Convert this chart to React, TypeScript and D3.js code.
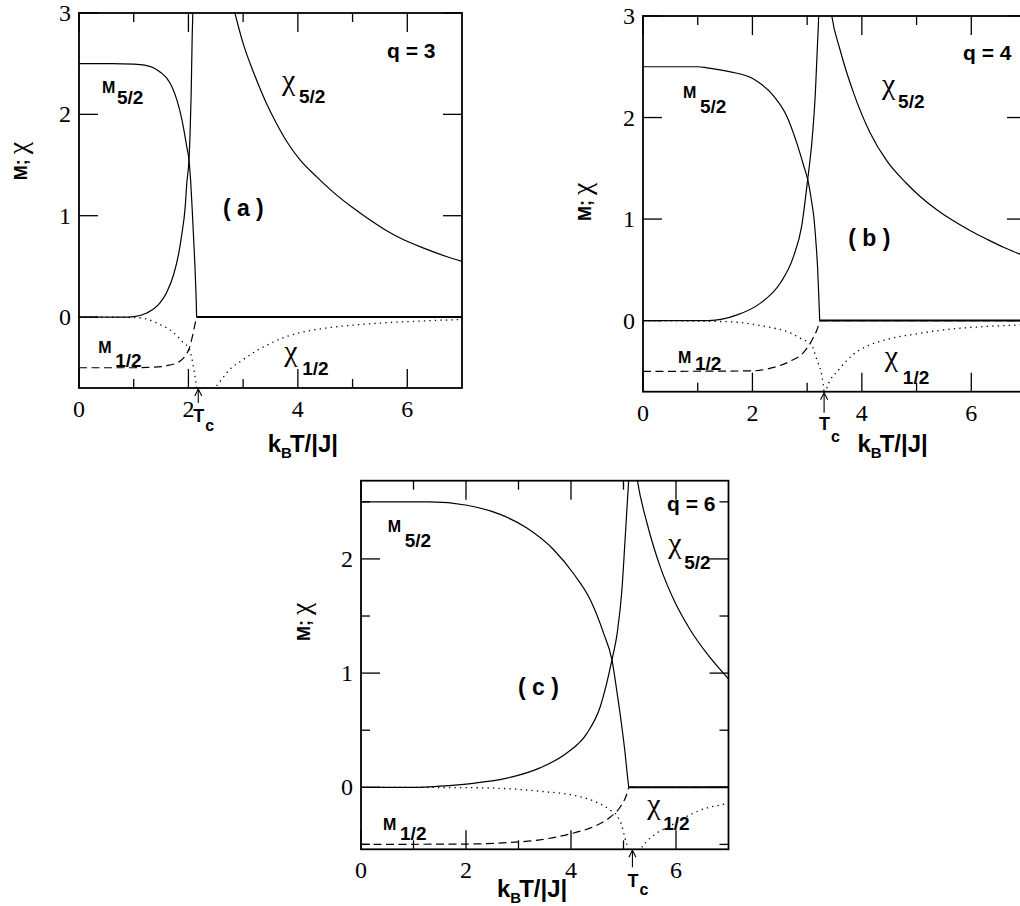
import React from 'react';
import * as d3 from 'd3';

type Pt = [number, number];

// ---- panel (a), q = 3 ----
const m52A: Pt[][] = [
  [[0, 2.5], [0.6, 2.5], [1.0, 2.495], [1.2, 2.485], [1.36, 2.46], [1.5, 2.41], [1.6, 2.36], [1.7, 2.27], [1.79, 2.14], [1.88, 1.95], [1.97, 1.68], [2.01, 1.55], [2.04, 1.35], [2.07, 1.05], [2.1, 0.72], [2.12, 0.49], [2.14, 0.2], [2.15, 0]],
  [[2.15, 0], [7, 0]],
];
const chi52A: Pt[][] = [
  [[0, 0], [0.8, 0], [1.0, 0.005], [1.24, 0.04], [1.48, 0.14], [1.6, 0.24], [1.73, 0.42], [1.82, 0.62], [1.88, 0.82], [1.94, 1.08], [1.97, 1.32], [2.01, 1.55], [2.03, 1.81], [2.05, 2.2], [2.07, 2.8], [2.08, 3.0], [2.09, 3.3]],
  [[2.72, 3.3], [2.85, 3.0], [3.0, 2.7], [3.2, 2.4], [3.4, 2.14], [3.6, 1.92], [3.8, 1.73], [4.04, 1.55], [4.35, 1.38], [4.65, 1.23], [5.0, 1.08], [5.26, 0.98], [5.6, 0.86], [5.87, 0.78], [6.3, 0.68], [6.7, 0.6], [7.0, 0.55]],
];
const m12A: Pt[][] = [
  [[0, -0.5], [1.0, -0.5], [1.3, -0.495], [1.5, -0.49], [1.65, -0.475], [1.8, -0.45], [1.9, -0.41], [1.97, -0.36], [2.02, -0.3], [2.06, -0.22], [2.09, -0.15], [2.12, -0.07], [2.14, -0.02], [2.15, 0]],
  [[2.15, 0], [7, 0]],
];
const chi12A: Pt[][] = [
  [[0, 0], [1.0, -0.005], [1.2, -0.015], [1.5, -0.08], [1.7, -0.14], [1.8, -0.19], [1.9, -0.25], [2.01, -0.31], [2.06, -0.4], [2.1, -0.52], [2.13, -0.62], [2.15, -0.7], [2.16, -0.75]],
  [[2.45, -0.72], [2.5, -0.69], [2.6, -0.62], [2.75, -0.52], [3.0, -0.42], [3.25, -0.33], [3.5, -0.26], [3.75, -0.2], [4.0, -0.16], [4.5, -0.11], [5.0, -0.08], [5.5, -0.06], [6.0, -0.045], [6.5, -0.033], [7.0, -0.025]],
];

// ---- panel (b), q = 4 ----
const m52B: Pt[][] = [
  [[0, 2.5], [1.0, 2.5], [1.17, 2.49], [1.6, 2.45], [2.02, 2.38], [2.39, 2.21], [2.63, 2.01], [2.81, 1.75], [2.94, 1.52], [3.01, 1.39], [3.08, 1.18], [3.12, 1.03], [3.16, 0.78], [3.19, 0.53], [3.21, 0.28], [3.23, 0]],
  [[3.23, 0], [7, 0]],
];
const chi52B: Pt[][] = [
  [[0, 0], [1.2, 0], [1.72, 0.056], [2.14, 0.17], [2.51, 0.37], [2.75, 0.63], [2.9, 0.93], [3.01, 1.39], [3.09, 1.78], [3.15, 2.24], [3.19, 2.73], [3.21, 3.0], [3.22, 3.3]],
  [[3.38, 3.3], [3.45, 3.0], [3.6, 2.67], [3.85, 2.24], [4.15, 1.85], [4.46, 1.57], [4.8, 1.36], [5.07, 1.22], [5.4, 1.08], [5.68, 0.98], [6.0, 0.88], [6.29, 0.8], [6.6, 0.72], [6.89, 0.655], [7.0, 0.635]],
];
const m12B: Pt[][] = [
  [[0, -0.5], [2.0, -0.495], [2.39, -0.46], [2.69, -0.4], [2.94, -0.31], [3.06, -0.22], [3.12, -0.16], [3.18, -0.09], [3.21, -0.04], [3.23, 0]],
  [[3.23, 0], [7, 0]],
];
const chi12B: Pt[][] = [
  [[0, 0], [1.53, -0.01], [2.26, -0.06], [2.69, -0.12], [2.93, -0.19], [3.06, -0.22], [3.18, -0.39], [3.27, -0.55], [3.31, -0.7], [3.32, -0.75]],
  [[3.33, -0.72], [3.35, -0.68], [3.6, -0.47], [3.85, -0.33], [4.1, -0.25], [4.5, -0.18], [5.0, -0.13], [5.6, -0.085], [6.2, -0.06], [7.0, -0.04]],
];

// ---- panel (c), q = 6 ----
const m52C: Pt[][] = [
  [[0, 2.5], [1.3, 2.5], [2.02, 2.47], [2.65, 2.39], [3.16, 2.27], [3.67, 2.08], [4.05, 1.87], [4.37, 1.64], [4.62, 1.35], [4.78, 1.115], [4.88, 0.82], [4.96, 0.56], [5.03, 0.3], [5.07, 0.12], [5.1, 0]],
  [[5.1, 0], [7, 0]],
];
const chi52C: Pt[][] = [
  [[0, 0], [1.0, 0], [1.5, 0.01], [2.14, 0.035], [2.78, 0.08], [3.41, 0.17], [3.92, 0.3], [4.3, 0.47], [4.56, 0.71], [4.78, 1.115], [4.88, 1.35], [4.97, 1.73], [5.03, 2.17], [5.08, 2.55], [5.1, 2.72], [5.11, 2.9]],
  [[5.2, 2.9], [5.26, 2.7], [5.45, 2.31], [5.7, 1.93], [5.96, 1.64], [6.27, 1.38], [6.59, 1.17], [7.0, 0.95]],
];
const m12C: Pt[][] = [
  [[0, -0.5], [2.0, -0.497], [2.78, -0.485], [3.41, -0.46], [4.05, -0.4], [4.43, -0.345], [4.75, -0.26], [4.94, -0.17], [5.07, -0.05], [5.1, 0]],
  [[5.1, 0], [7, 0]],
];
const chi12C: Pt[][] = [
  [[0, 0], [2.0, -0.003], [2.78, -0.012], [3.41, -0.035], [4.05, -0.07], [4.43, -0.12], [4.75, -0.2], [4.88, -0.25], [4.97, -0.34], [5.03, -0.45], [5.08, -0.55], [5.09, -0.6]],
  [[5.3, -0.57], [5.32, -0.55], [5.45, -0.47], [5.64, -0.4], [5.96, -0.32], [6.27, -0.24], [6.59, -0.18], [6.85, -0.155], [7.0, -0.14]],
];

const qLabels = ['q = 3', 'q = 4', 'q = 6'];
const panelTags = ['( a )', '( b )', '( c )'];
const xTicksMajor = [0, 2, 4, 6];
const xTicksMinor = [1, 3, 5];
const tcValues = [2.18, 3.31, 5.17];

const SANS = "'Liberation Sans', sans-serif";
const SERIF = "'Liberation Serif', serif";

type Lab = { kind: 'M' | 'chi'; sub: string; x: number; y: number; sdx: number; sdy: number };

type Panel = {
  id: string;
  left: number; right: number; top: number; bottom: number;
  yDomain: [number, number];
  yMajor: number[]; yMinor: number[];
  m52: Pt[][]; chi52: Pt[][]; m12: Pt[][]; chi12: Pt[][];
  labels: Lab[];
  tag: [number, number]; q: [number, number];
  tcDrop: number; tcArrow: number; tcSubDy: number;
  xLab: [number, number];
  yLab: [number, number];
};

const panels: Panel[] = [
  {
    id: 'a', left: 79, right: 462, top: 13, bottom: 388, yDomain: [-0.7, 3],
    yMajor: [0, 1, 2, 3], yMinor: [],
    m52: m52A, chi52: chi52A, m12: m12A, chi12: chi12A,
    labels: [
      { kind: 'M', sub: '5/2', x: 0.42, y: 2.21, sdx: 15, sdy: 11 },
      { kind: 'chi', sub: '5/2', x: 3.71, y: 2.22, sdx: 17, sdy: 11 },
      { kind: 'M', sub: '1/2', x: 0.35, y: -0.355, sdx: 17, sdy: 14 },
      { kind: 'chi', sub: '1/2', x: 3.75, y: -0.454, sdx: 18, sdy: 12 },
    ],
    tag: [2.63, 1.0], q: [5.63, 2.56],
    tcDrop: 34, tcArrow: 15, tcSubDy: 9,
    xLab: [3.45, 64], yLab: [-52, 1.54],
  },
  {
    id: 'b', left: 643, right: 1026, top: 16, bottom: 391.7, yDomain: [-0.7, 3],
    yMajor: [0, 1, 2, 3], yMinor: [],
    m52: m52B, chi52: chi52B, m12: m12B, chi12: chi12B,
    labels: [
      { kind: 'M', sub: '5/2', x: 0.73, y: 2.19, sdx: 17, sdy: 15 },
      { kind: 'chi', sub: '5/2', x: 4.37, y: 2.21, sdx: 16, sdy: 12 },
      { kind: 'M', sub: '1/2', x: 0.64, y: -0.42, sdx: 17, sdy: 7 },
      { kind: 'chi', sub: '1/2', x: 4.42, y: -0.47, sdx: 18, sdy: 16 },
    ],
    tag: [3.75, 0.73], q: [5.85, 2.57],
    tcDrop: 38, tcArrow: 21, tcSubDy: 12,
    xLab: [3.92, 60], yLab: [-52, 1.17],
  },
  {
    id: 'c', left: 361, right: 728.5, top: 480.7, bottom: 849.3, yDomain: [-0.543, 2.685],
    yMajor: [0, 1, 2], yMinor: [-0.5, 0.5, 1.5, 2.5],
    m52: m52C, chi52: chi52C, m12: m12C, chi12: chi12C,
    labels: [
      { kind: 'M', sub: '5/2', x: 0.51, y: 2.24, sdx: 17, sdy: 15 },
      { kind: 'chi', sub: '5/2', x: 5.85, y: 2.03, sdx: 16, sdy: 14 },
      { kind: 'M', sub: '1/2', x: 0.42, y: -0.37, sdx: 17, sdy: 10 },
      { kind: 'chi', sub: '1/2', x: 5.45, y: -0.25, sdx: 16, sdy: 14 },
    ],
    tag: [2.99, 0.81], q: [5.83, 2.42],
    tcDrop: 38, tcArrow: 18, tcSubDy: 8,
    xLab: [2.59, 48], yLab: [-51, 1.45],
  },
];

const MAJOR = 19;
const MINOR = 9;

function PanelView({ p, idx }: { p: Panel; idx: number }) {
  const x = d3.scaleLinear().domain([0, 7]).range([p.left, p.right]);
  const y = d3.scaleLinear().domain(p.yDomain).range([p.bottom, p.top]);
  const line = d3.line<Pt>().x(d => x(d[0])).y(d => y(d[1])).curve(d3.curveMonotoneX);
  const clipId = `clip-${p.id}`;
  const tc = x(tcValues[idx]);

  // flat zero segments are drawn a touch heavier, as in the print
  const draw = (segs: Pt[][], dash?: string, flatWidth = 1.2, w = 1.2) =>
    segs.map((s, i) => (
      <path key={i} d={line(s) || ''} fill="none" stroke="#000"
        strokeWidth={i === 1 && s.length === 2 ? flatWidth : w} strokeDasharray={dash} />
    ));

  const ticks: JSX.Element[] = [];
  [...xTicksMajor.map(v => [v, MAJOR]), ...xTicksMinor.map(v => [v, MINOR])].forEach(([v, len], i) => {
    const px = x(v);
    ticks.push(<line key={`xb${i}`} x1={px} x2={px} y1={p.bottom} y2={p.bottom - len} />);
    ticks.push(<line key={`xt${i}`} x1={px} x2={px} y1={p.top} y2={p.top + len} />);
  });
  [...p.yMajor.map(v => [v, MAJOR]), ...p.yMinor.map(v => [v, MINOR])].forEach(([v, len], i) => {
    const py = y(v);
    ticks.push(<line key={`yl${i}`} x1={p.left} x2={p.left + len} y1={py} y2={py} />);
    ticks.push(<line key={`yr${i}`} x1={p.right} x2={p.right - len} y1={py} y2={py} />);
  });

  const sans = (size: number): React.CSSProperties => ({ fontFamily: SANS, fontWeight: 700, fontSize: size });
  const serif = (size: number): React.CSSProperties => ({ fontFamily: SERIF, fontWeight: 400, fontSize: size });

  return (
    <g>
      <defs>
        <clipPath id={clipId}>
          <rect x={p.left} y={p.top} width={p.right - p.left} height={p.bottom - p.top} />
        </clipPath>
      </defs>
      <g clipPath={`url(#${clipId})`}>
        {draw(p.m52, undefined, 2)}
        {draw(p.chi52)}
        {draw(p.m12, '8,4.5')}
        {draw(p.chi12, '1.3,4.2', 1.3, 1.3)}
      </g>
      <g stroke="#000" strokeWidth={1.3}>{ticks}</g>
      <rect x={p.left} y={p.top} width={p.right - p.left} height={p.bottom - p.top}
        fill="none" stroke="#000" strokeWidth={1.8} />

      {/* tick labels */}
      {xTicksMajor.map(v => (
        <text key={`xl${v}`} x={x(v)} y={p.bottom + 29} textAnchor="middle" style={serif(24)}>{v}</text>
      ))}
      {p.yMajor.map(v => (
        <text key={`yl${v}`} x={p.left - 8} y={y(v) + 8} textAnchor="end" style={serif(24)}>{v}</text>
      ))}

      {/* curve labels */}
      {p.labels.map((l, i) => {
        const lx = x(l.x);
        const ly = y(l.y);
        return (
          <g key={`lab${i}`}>
            {l.kind === 'M' ? (
              <text x={lx} y={ly} style={sans(16)}>M</text>
            ) : (
              <text x={lx} y={ly - 2} style={serif(30)}>χ</text>
            )}
            <text x={lx + l.sdx} y={ly + l.sdy} style={sans(19)}>{l.sub}</text>
          </g>
        );
      })}

      <text x={x(p.tag[0])} y={y(p.tag[1])} style={{ ...sans(23), whiteSpace: 'pre' }}>{panelTags[idx]}</text>
      <text x={x(p.q[0])} y={y(p.q[1])} style={{ ...sans(21), whiteSpace: 'pre' }}>{qLabels[idx]}</text>

      {/* Tc marker */}
      <g stroke="#000" strokeWidth={1.1} fill="none">
        <line x1={tc} x2={tc} y1={p.bottom + 1} y2={p.bottom + p.tcArrow} />
        <path d={`M${tc - 3.5},${p.bottom + 8} L${tc},${p.bottom + 1} L${tc + 3.5},${p.bottom + 8}`} />
      </g>
      <text x={tc - 5} y={p.bottom + p.tcDrop} style={sans(18)}>T</text>
      <text x={tc + 7} y={p.bottom + p.tcDrop + p.tcSubDy} style={sans(16)}>c</text>

      {/* x axis title */}
      <text x={x(p.xLab[0])} y={p.bottom + p.xLab[1]} style={sans(24)}>
        k<tspan style={{ fontSize: 15 }} dy={6}>B</tspan><tspan dy={-6} dx={-2}>T/|J|</tspan>
      </text>

      {/* y axis title */}
      <text transform={`translate(${p.left + p.yLab[0]},${y(p.yLab[1])}) rotate(-90)`}
        textAnchor="middle" style={sans(18)}>
        M; <tspan style={serif(28)}>χ</tspan>
      </text>
    </g>
  );
}

export default function App() {
  return (
    <svg width={1020} height={906} viewBox="0 0 1020 906"
      style={{ position: 'absolute', left: 0, top: 0, background: '#fff' }}>
      <rect x={0} y={0} width={1020} height={906} fill="#fff" />
      {panels.map((p, i) => <PanelView key={p.id} p={p} idx={i} />)}
    </svg>
  );
}
